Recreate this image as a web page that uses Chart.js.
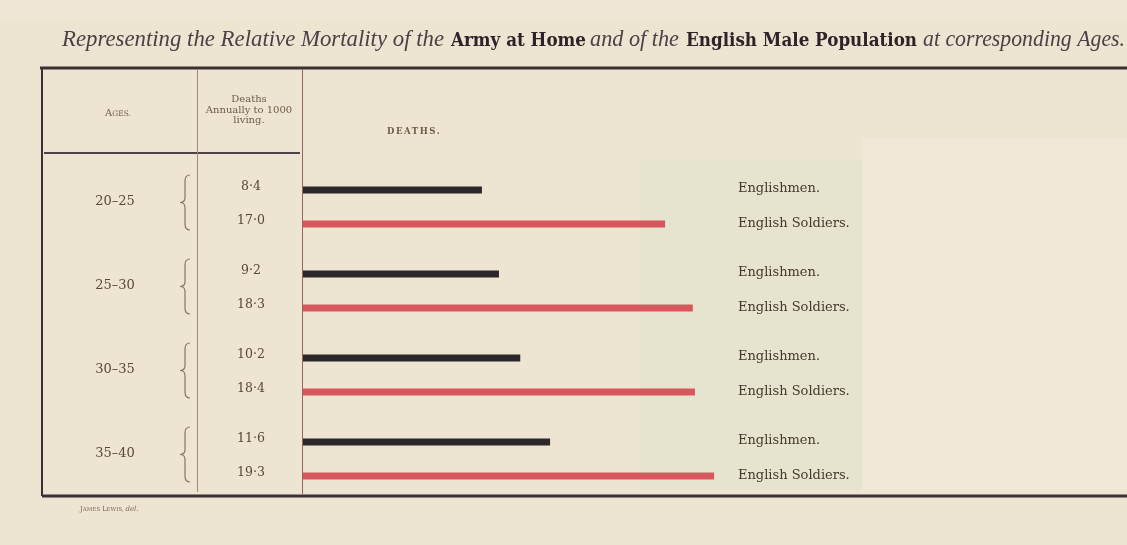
<!DOCTYPE html>
<html>
<head>
<meta charset="utf-8">
<script src="https://cdn.jsdelivr.net/npm/chart.js@4/dist/chart.umd.min.js"></script>
<style>
  html, body { margin: 0; padding: 0; background: #eee4d2; }
  #wrap { width: 1127px; height: 545px; position: relative; }
</style>
</head>
<body>
<div id="wrap"><canvas id="c" width="1127" height="545"></canvas></div>
<script>
// ---- Data ----
const ageGroups = ['20–25', '25–30', '30–35', '35–40'];
const englishmen = [8.4, 9.2, 10.2, 11.6];
const soldiers = [17.0, 18.3, 18.4, 19.3];
const seriesLabels = ['Englishmen.', 'English Soldiers.'];
const titleParts = [
  ['Representing the Relative Mortality of the', 'i'],
  ['Army at Home', 'b'],
  ['and of the', 'i'],
  ['English Male Population', 'b'],
  ['at corresponding Ages.', 'i']
];
const headerAges = 'Ages.';
const headerDeaths = ['Deaths', 'Annually to 1000', 'living.'];
const headerBars = 'DEATHS.';
const credit = 'James Lewis, del.';

const fmt = v => v.toFixed(1).replace('.', '·');

// ---- Decoration plugin ----
const decor = {
  id: 'decor',
  beforeDraw(chart) {
    const ctx = chart.ctx;
    ctx.save();
    // background
    ctx.fillStyle = '#eee4d2';
    ctx.fillRect(0, 0, chart.width, chart.height);
    ctx.fillStyle = '#efe7d5';
    ctx.fillRect(0, 0, chart.width, 18);
    ctx.fillStyle = '#f0e8d6';
    ctx.fillRect(862, 138, 265, 352);
    ctx.fillStyle = '#e6e3cf';
    ctx.fillRect(640, 160, 222, 330);

    // title
    const segTargets = [[62, 444], [451, 586], [590, 679], [686, 917], [923, 1125]];
    titleParts.forEach((p, i) => {
      const [txt, st] = p;
      ctx.font = st === 'i' ? 'italic 23px "Liberation Serif"' : 'bold 19px "DejaVu Serif Condensed", "DejaVu Serif"';
      ctx.fillStyle = st === 'i' ? '#4a4046' : '#2c2428';
      const w = ctx.measureText(txt).width;
      const [x0, x1] = segTargets[i];
      const sx = (x1 - x0) / w;
      ctx.save();
      ctx.translate(x0, 46);
      ctx.scale(sx, 1);
      ctx.textBaseline = 'alphabetic';
      ctx.textAlign = 'left';
      ctx.fillText(txt, 0, 0);
      ctx.restore();
    });

    // table lines
    ctx.strokeStyle = '#3a3036';
    ctx.lineWidth = 3;
    ctx.beginPath(); ctx.moveTo(40, 68); ctx.lineTo(1127, 68); ctx.stroke();
    ctx.beginPath(); ctx.moveTo(42, 496); ctx.lineTo(1127, 496); ctx.stroke();
    ctx.lineWidth = 2;
    ctx.beginPath(); ctx.moveTo(42, 68); ctx.lineTo(42, 496); ctx.stroke();
    ctx.strokeStyle = '#4c4248';
    ctx.beginPath(); ctx.moveTo(44, 153); ctx.lineTo(300, 153); ctx.stroke();
    ctx.lineWidth = 1;
    ctx.strokeStyle = '#a88a70';
    ctx.beginPath(); ctx.moveTo(197.5, 69); ctx.lineTo(197.5, 492); ctx.stroke();
    ctx.strokeStyle = '#94645a';
    ctx.beginPath(); ctx.moveTo(302.5, 69); ctx.lineTo(302.5, 494); ctx.stroke();

    // headers
    ctx.fillStyle = '#6e5c46';
    ctx.textAlign = 'left';
    ctx.textBaseline = 'alphabetic';
    ctx.font = '10px "DejaVu Serif"';
    let wA = ctx.measureText(headerAges[0]).width;
    ctx.font = '7.5px "DejaVu Serif"';
    let wR = ctx.measureText(headerAges.slice(1).toUpperCase()).width;
    let xs = 118 - (wA + wR) / 2;
    ctx.font = '10px "DejaVu Serif"';
    ctx.fillText(headerAges[0], xs, 116);
    ctx.font = '7.5px "DejaVu Serif"';
    ctx.fillText(headerAges.slice(1).toUpperCase(), xs + wA, 116);

    ctx.textAlign = 'center';
    ctx.font = '10px "DejaVu Serif"';
    headerDeaths.forEach((t, i) => ctx.fillText(t, 249, 102 + i * 10.5));

    ctx.textAlign = 'left';
    ctx.font = 'bold 8.5px "DejaVu Serif"';
    ctx.letterSpacing = '1.6px';
    ctx.fillText(headerBars, 387, 134);
    ctx.letterSpacing = '0px';

    // credit
    ctx.fillStyle = '#7a6a5a';
    const words = credit.split(' ');
    let cx = 80;
    words.forEach(wd => {
      const first = wd[0], rest = wd.slice(1);
      if (wd === 'del.') {
        ctx.font = 'italic 7px "DejaVu Serif"';
        ctx.fillText(wd, cx, 511);
        cx += ctx.measureText(wd + ' ').width;
      } else {
        ctx.font = '7px "DejaVu Serif"';
        ctx.fillText(first, cx, 511);
        cx += ctx.measureText(first).width;
        ctx.font = '5.5px "DejaVu Serif"';
        ctx.fillText(rest.toUpperCase(), cx, 511);
        cx += ctx.measureText(rest.toUpperCase() + ' ').width;
      }
    });
    ctx.restore();
  },
  afterDatasetsDraw(chart) {
    const ctx = chart.ctx;
    ctx.save();
    const m0 = chart.getDatasetMeta(0), m1 = chart.getDatasetMeta(1);
    const yScale = chart.scales.y;
    ageGroups.forEach((g, i) => {
      const yc = yScale.getPixelForValue(i);
      const b0 = m0.data[i], b1 = m1.data[i];
      // age label
      ctx.fillStyle = '#5a4836';
      ctx.font = '13px "DejaVu Serif"';
      ctx.textAlign = 'center';
      ctx.textBaseline = 'middle';
      ctx.fillText(g, 115, yc - 5);
      // values
      ctx.font = '12.5px "DejaVu Serif"';
      ctx.fillText(fmt(englishmen[i]), 251, b0.y - 3);
      ctx.fillText(fmt(soldiers[i]), 251, b1.y - 3);
      // series labels
      ctx.fillStyle = '#45382c';
      ctx.textAlign = 'left';
      ctx.font = '13px "DejaVu Serif"';
      ctx.fillText(seriesLabels[0], 738, b0.y - 1);
      ctx.fillText(seriesLabels[1], 738, b1.y);
      // brace
      const top = b0.y - 15, bot = b1.y + 6, mid = (top + bot) / 2;
      ctx.strokeStyle = '#8a745c';
      ctx.lineWidth = 1.2;
      ctx.beginPath();
      ctx.moveTo(190, top);
      ctx.quadraticCurveTo(185, top, 185, top + 6);
      ctx.lineTo(185, mid - 5);
      ctx.quadraticCurveTo(185, mid, 180, mid);
      ctx.quadraticCurveTo(185, mid, 185, mid + 5);
      ctx.lineTo(185, bot - 6);
      ctx.quadraticCurveTo(185, bot, 190, bot);
      ctx.stroke();
    });
    ctx.restore();
  }
};

new Chart(document.getElementById('c'), {
  type: 'bar',
  data: {
    labels: ageGroups,
    datasets: [
      { label: seriesLabels[0], data: englishmen, backgroundColor: '#2b272a', maxBarThickness: 7, barPercentage: 0.2, categoryPercentage: 0.81 },
      { label: seriesLabels[1], data: soldiers, backgroundColor: '#d6585d', maxBarThickness: 7, barPercentage: 0.2, categoryPercentage: 0.81 }
    ]
  },
  options: {
    indexAxis: 'y',
    responsive: false,
    animation: false,
    layout: { padding: { left: 303, right: 185, top: 165, bottom: 44 } },
    scales: {
      x: { display: false, min: 0, max: 30 },
      y: { display: false }
    },
    plugins: { legend: { display: false }, tooltip: { enabled: false }, title: { display: false } }
  },
  plugins: [decor]
});
</script>
</body>
</html>
